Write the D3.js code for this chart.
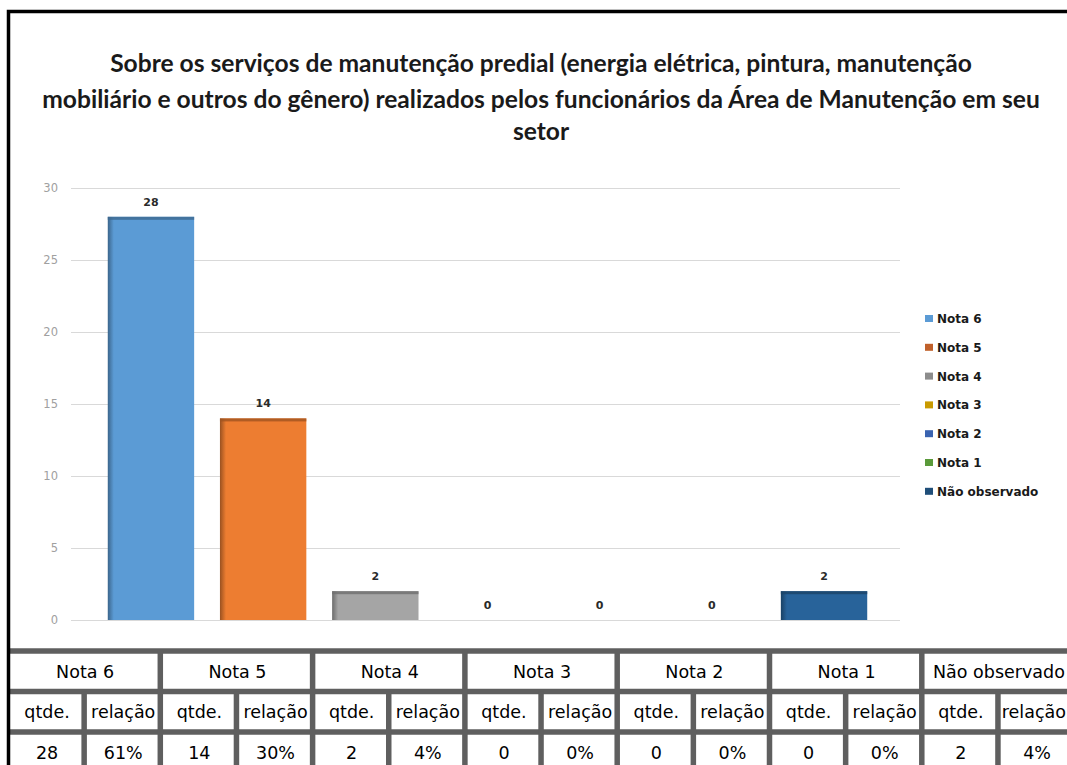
<!DOCTYPE html>
<html>
<head>
<meta charset="utf-8">
<script src="https://cdn.jsdelivr.net/npm/d3@7"></script>
<style>
  body { margin: 0; background: #ffffff; }
  svg { display: block; }
</style>
</head>
<body>
<script>
// chart data
var categories = ["Nota 6", "Nota 5", "Nota 4", "Nota 3", "Nota 2", "Nota 1", "Não observado"];
var values = [28, 14, 2, 0, 0, 0, 2];
var percents = ["61%", "30%", "4%", "0%", "0%", "0%", "4%"];
var colors = ["#5b9bd5", "#ed7d31", "#a5a5a5", "#ffc000", "#4472c4", "#70ad47", "#28639a"];
var legendColors = ["#5b9bd5", "#c0602a", "#8c8c8c", "#c99a00", "#3a63b0", "#5a9a3a", "#1f4e79"];
var yTicks = [0, 5, 10, 15, 20, 25, 30];
var subHeaders = ["qtde.", "relação"];
var titleLines = [
  "Sobre os serviços de manutenção predial (energia elétrica, pintura, manutenção",
  "mobiliário e outros do gênero) realizados pelos funcionários da Área de Manutenção em seu",
  "setor"
];

function main(){
  var w = 1067, h = 765;
  var plotLeft = 71, plotRight = 900, plotTop = 188, plotBottom = 620;

  var svg = d3.select("body").append("svg")
    .attr("width", w)
    .attr("height", h);

  svg.append("rect").attr("width", w).attr("height", h).attr("fill", "#fff");

  var y = d3.scaleLinear().domain([0, 30]).range([plotBottom, plotTop]);
  var x = d3.scaleBand()
    .domain(categories)
    .range([plotLeft + 2, plotRight + 2])
    .paddingInner(0.23)
    .paddingOuter(0.31);

  // rows of the chart, one object per category
  var rows = categories.map(function(c, i){
    return { cat: c, value: values[i], color: colors[i], idx: i };
  });

  // title, sized so the long line fills its width
  var title = svg.append("g").attr("font-family", "Lato, sans-serif")
    .attr("font-weight", "bold").attr("fill", "#1a1a1a").attr("text-anchor", "middle");
  var lineY = [72, 108, 140];
  var tLines = title.selectAll("text").data(titleLines).enter().append("text")
    .attr("x", 541)
    .attr("y", function(d, i){ return lineY[i]; })
    .attr("font-size", 20)
    .text(function(d){ return d; });
  var measured = tLines.nodes()[1].getComputedTextLength();
  var fs = 20 * 998 / measured;
  tLines.attr("font-size", fs);

  // gridlines and y labels
  var yAxis = d3.axisLeft(y).tickValues(yTicks).tickSize(-(plotRight - plotLeft)).tickPadding(13);
  var ga = svg.append("g").attr("transform", "translate(" + plotLeft + ",0)").call(yAxis);
  ga.select(".domain").remove();
  ga.selectAll(".tick line").attr("stroke", "#d9d9d9").attr("stroke-width", 1.2);
  ga.selectAll(".tick text").attr("fill", "#a0a0a0").attr("font-size", 11.5)
    .attr("font-family", "'DejaVu Sans', sans-serif");

  // gradients for the bevelled bars
  var defs = svg.append("defs");
  colors.forEach(function(c, i){
    var g = defs.append("linearGradient").attr("id", "grad" + i)
      .attr("x1", "0%").attr("x2", "100%").attr("y1", "0%").attr("y2", "0%");
    g.append("stop").attr("offset", "0%").attr("stop-color", d3.color(c).darker(1.2));
    g.append("stop").attr("offset", "7%").attr("stop-color", c);
    g.append("stop").attr("offset", "100%").attr("stop-color", c);
  });

  var bars = svg.append("g");
  bars.selectAll("rect.bar").data(rows).enter().append("rect")
    .attr("class", "bar")
    .attr("x", function(d){ return x(d.cat); })
    .attr("y", function(d){ return y(d.value); })
    .attr("width", x.bandwidth())
    .attr("height", function(d){ return y(0) - y(d.value); })
    .attr("fill", function(d){ return "url(#grad" + d.idx + ")"; });
  // top shading strip, only on bars that have height
  bars.selectAll("rect.top").data(rows.filter(function(d){ return d.value > 0; })).enter().append("rect")
    .attr("class", "top")
    .attr("x", function(d){ return x(d.cat); })
    .attr("y", function(d){ return y(d.value); })
    .attr("width", x.bandwidth())
    .attr("height", 3)
    .attr("fill", function(d){ return d3.color(d.color).darker(1.1); })
    .attr("opacity", 0.8);

  // value labels
  svg.append("g").selectAll("text").data(rows).enter().append("text")
    .attr("x", function(d){ return x(d.cat) + x.bandwidth() / 2; })
    .attr("y", function(d){ return y(d.value) - 11; })
    .attr("text-anchor", "middle")
    .attr("font-family", "'DejaVu Sans', sans-serif")
    .attr("font-weight", "bold")
    .attr("font-size", 11)
    .attr("fill", "#2a2a2a")
    .text(function(d){ return d.value; });

  // legend
  var leg = svg.append("g").attr("font-family", "'DejaVu Sans', sans-serif")
    .attr("font-weight", "bold").attr("font-size", 12);
  var legItems = leg.selectAll("g").data(categories).enter().append("g")
    .attr("transform", function(d, i){ return "translate(925," + (319 + i * 28.8) + ")"; });
  legItems.append("rect").attr("x", 0).attr("y", -4).attr("width", 8).attr("height", 7)
    .attr("fill", function(d, i){ return legendColors[i]; });
  legItems.append("text").attr("x", 12).attr("y", 4).attr("fill", "#1a1a1a")
    .text(function(d){ return d; });

  // table under the chart
  var tableLeft = 8, groupW = 152.3;
  var rowLines = [651, 691.5, 732, 772.5];
  var tbl = svg.append("g");
  var gx = d3.scaleBand().domain(categories).range([tableLeft, tableLeft + groupW * categories.length]);

  var tText = tbl.append("g").attr("font-family", "'DejaVu Sans', sans-serif")
    .attr("font-size", 17.5).attr("fill", "#000").attr("text-anchor", "middle");

  tText.selectAll("text.head").data(categories).enter().append("text")
    .attr("class", "head")
    .attr("x", function(d){ return gx(d) + groupW / 2 + 1; })
    .attr("y", (rowLines[0] + rowLines[1]) / 2 + 6.5)
    .text(function(d){ return d; });

  categories.forEach(function(c, i){
    var left = gx(c);
    var cells = [
      { col: 0, row: 1, t: subHeaders[0] },
      { col: 1, row: 1, t: subHeaders[1] },
      { col: 0, row: 2, t: String(values[i]) },
      { col: 1, row: 2, t: percents[i] }
    ];
    tText.selectAll(null).data(cells).enter().append("text")
      .attr("x", function(d){ return left + groupW / 4 + d.col * groupW / 2 + 1; })
      .attr("y", function(d){ return (rowLines[d.row] + rowLines[d.row + 1]) / 2 + 6.5; })
      .text(function(d){ return d.t; });
  });

  // keep the table texts inside the page on the right
  tText.selectAll("text").each(function(){
    var t = d3.select(this);
    var half = this.getComputedTextLength() / 2;
    var cx = +t.attr("x");
    if (cx + half > w - 1) t.attr("x", w - 1 - half);
  });

  var lineColor = "#5f5f5f";
  tbl.selectAll("line.h").data(rowLines).enter().append("line")
    .attr("x1", tableLeft).attr("x2", w)
    .attr("y1", function(d){ return d; }).attr("y2", function(d){ return d; })
    .attr("stroke", lineColor).attr("stroke-width", 5.5);
  tbl.selectAll("line.g").data(categories).enter().append("line")
    .attr("x1", function(d){ return gx(d) + groupW; }).attr("x2", function(d){ return gx(d) + groupW; })
    .attr("y1", rowLines[0]).attr("y2", h)
    .attr("stroke", lineColor).attr("stroke-width", 5.5);
  tbl.selectAll("line.s").data(categories).enter().append("line")
    .attr("x1", function(d){ return gx(d) + groupW / 2; }).attr("x2", function(d){ return gx(d) + groupW / 2; })
    .attr("y1", rowLines[1]).attr("y2", h)
    .attr("stroke", lineColor).attr("stroke-width", 5.5);

  // outer black frame
  svg.append("path")
    .attr("d", "M8.5," + h + " L8.5,11.5 L" + w + ",11.5")
    .attr("fill", "none").attr("stroke", "#000").attr("stroke-width", 3.5);
}

window.onload = function() {
  main();
};
</script>
</body>
</html>
